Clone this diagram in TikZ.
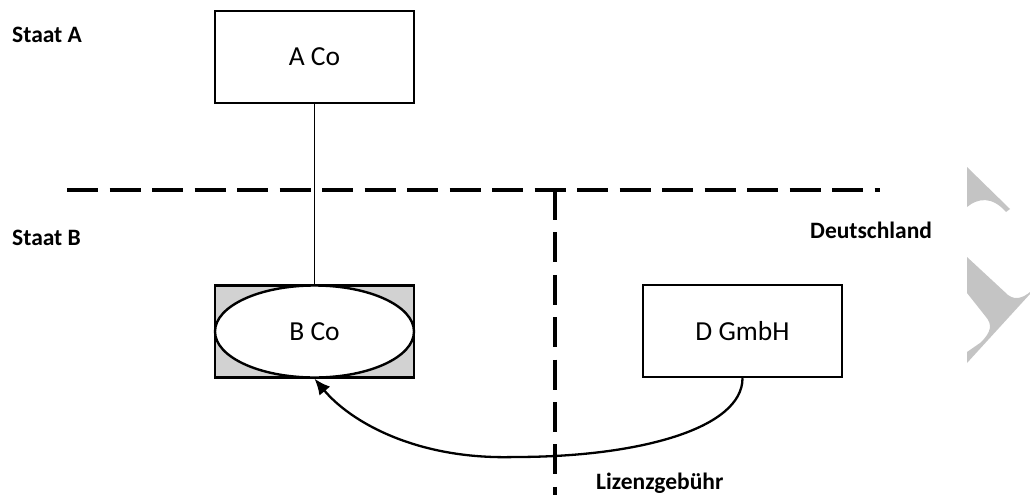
\documentclass[tikz,border=0pt]{standalone}
\usepackage{fontspec}
\setmainfont{Carlito}
\usetikzlibrary{arrows.meta,shapes.geometric,calc}
\definecolor{boxgray}{HTML}{D2D2D2}
\definecolor{wmgray}{HTML}{C4C4C4}
\begin{document}
\begin{tikzpicture}[x=1pt,y=-1pt,
  box/.style={draw,line width=2.4pt,minimum width=199pt,minimum height=92pt,inner sep=0pt,font=\fontsize{27.5}{30}\selectfont},
  region/.style={font=\bfseries\fontsize{23.5}{26}\selectfont,inner sep=0pt,anchor=base west},
  borderh/.style={line width=4.2pt,dash pattern=on 31pt off 11.5pt},
  borderv/.style={line width=3.4pt,dash pattern=on 30pt off 12.4pt},
  flow/.style={line width=2.3pt,-{Latex[length=16pt,width=14pt]}}]
\useasboundingbox (0,0) rectangle (1030,495);
% watermark shapes
\fill[wmgray] (967,167) -- (1010,209) -- (1006,212) .. controls (992,196) and (978,198) .. (967,207) -- cycle;
\fill[wmgray] (967,257) -- (1008,295) .. controls (1016,301) and (1024,297) .. (1030,292) -- (1030,294) -- (967,363) -- (967,352) -- (980,343) .. controls (992,332) and (992,324) .. (986,317) -- (967,293) -- cycle;
% borders
\coordinate (hl) at (67,190);
\coordinate (hr) at (880,190);
\coordinate (vt) at (555,190);
\coordinate (vb) at (555,495);
\draw[borderh] (hl) -- (hr);
\draw[borderv] (vt) -- (vb);
% labels
\node[region] (sa) at (12,43) {Staat A};
\node[region] (sb) at (12,245) {Staat B};
\node[region] (de) at (810,238) {Deutschland};
\node[region] (li) at (596,489) {Lizenzgebühr};
% boxes
\node[box,fill=white] (aco) at (314.5,57) {A Co};
\node[box,fill=boxgray] (bco) at (314.5,331.5) {};
\node[ellipse,draw,fill=white,line width=2.4pt,minimum width=199pt,minimum height=92pt,inner sep=0pt,font=\fontsize{27.5}{30}\selectfont] (bell) at (bco.center) {B Co};
\node[box,fill=white] (dg) at (742.5,331) {D GmbH};
% connectors
\draw[line width=1.2pt] (aco.south) -- (bco.north);
\coordinate (m) at (515,457);
\draw[flow] (dg.south) .. controls +(0,50) and +(125,0) .. (m) .. controls +(-100,3) and +(35,42) .. (bco.south);
\end{tikzpicture}
\end{document}
